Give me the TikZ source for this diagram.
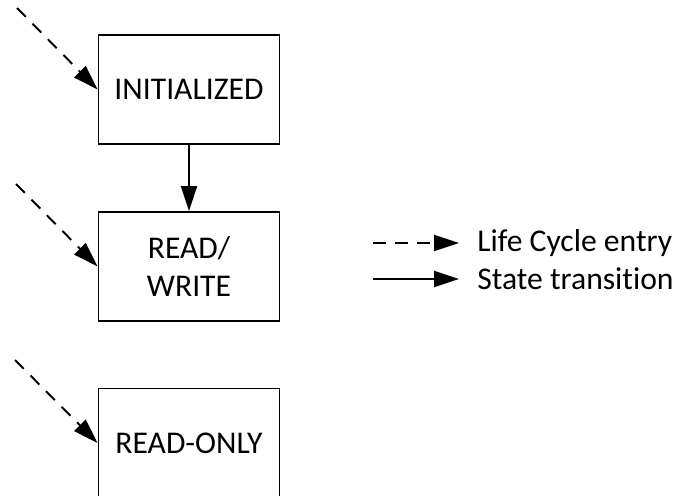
\documentclass[tikz,border=0pt]{standalone}
\usepackage{fontspec}
\setmainfont{Carlito}[Ligatures=NoCommon]
\usetikzlibrary{arrows.meta}

\begin{document}
\begin{tikzpicture}[
        statebox/.style={draw, line width=1.1pt, minimum width=3.62cm, minimum height=2.18cm,
                align=center, inner sep=0pt, font=\fontsize{18}{21.5}\selectfont},
        legtext/.style={anchor=west, inner sep=0pt, font=\fontsize{18}{21.5}\selectfont},
        entry/.style={-{Triangle[length=0.5cm, width=0.32cm]}, line width=1.1pt,
                dash pattern=on 0.25cm off 0.19cm},
        trans/.style={-{Triangle[length=0.5cm, width=0.32cm]}, line width=1.1pt}]
        \useasboundingbox (0cm, 0cm) rectangle (13.600000cm, -9.900000cm);
        % states
        \node (init) [statebox] at (3.780000cm, -1.790000cm) {INITIALIZED};
        \node (rw) [statebox] at (3.780000cm, -5.330000cm) {READ/\\WRITE};
        \node (ro) [statebox] at (3.780000cm, -8.860000cm) {READ-ONLY};
        % life cycle entry points
        \coordinate (e0) at (0.340000cm, -0.160000cm);
        \coordinate (e1) at (0.320000cm, -3.680000cm);
        \coordinate (e2) at (0.300000cm, -7.200000cm);
        \draw (e0) edge [entry] (init.west);
        \draw (e1) edge [entry] (rw.west);
        \draw (e2) edge [entry] (ro.west);
        \draw (init) edge [trans] (rw);
        % legend
        \node (lentry) [legtext] at (9.540000cm, -4.860000cm) {Life Cycle entry};
        \node (ltrans) [legtext] at (9.540000cm, -5.580000cm) {State transition};
        \coordinate (l0) at (7.460000cm, -4.860000cm);
        \coordinate (l1) at (9.180000cm, -4.860000cm);
        \coordinate (l2) at (7.460000cm, -5.580000cm);
        \coordinate (l3) at (9.180000cm, -5.580000cm);
        \draw (l0) edge [entry] (l1);
        \draw (l2) edge [trans] (l3);
\end{tikzpicture}
\end{document}
